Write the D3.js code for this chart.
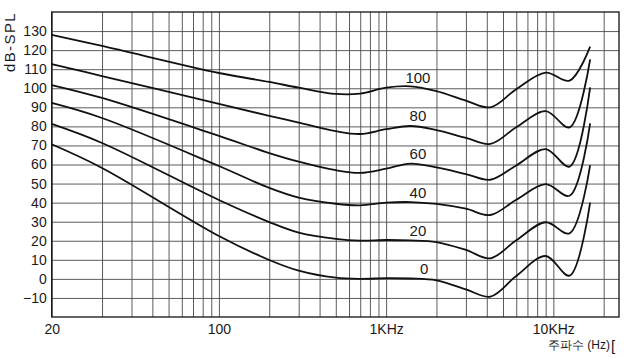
<!DOCTYPE html>
<html><head><meta charset="utf-8">
<script src="https://cdn.jsdelivr.net/npm/d3@7"></script>
<style>
body{margin:0;background:#fff}
svg{display:block}
text{font-family:"Liberation Sans",Arial,Helvetica,sans-serif;fill:#1a1a1a}
</style>
</head><body>
<svg id="chart" width="624" height="358"></svg>
<script>
// Frequencies (chart's log coordinate; left edge of frame is the "20" tick)
const freqs = [10, 20, 100, 200, 300, 500, 700, 1000, 1400, 2000, 3000, 4200, 6000, 9000, 12500, 16600];
// Equal-loudness contours (dB-SPL), one array per loudness level
const phon100 = [128, 122.2, 108, 103.3, 100.3, 97, 97.2, 100.3, 101, 98.5, 93.5, 90, 99.5, 108.2, 104, 121.8];
const phon80  = [112.6, 106.4, 91.8, 85.5, 82, 77.5, 76, 78.5, 80.2, 78, 74, 70.8, 79.5, 88, 79.5, 115.2];
const phon60  = [101.7, 94.9, 75, 66, 61.5, 57, 55.6, 57.8, 60.5, 58.5, 55, 52, 59.5, 68.1, 58.9, 100.5];
const phon40  = [92.3, 84.4, 59.2, 47.7, 42.6, 39.4, 38.6, 40, 40.3, 39.3, 36.8, 33.5, 41.5, 49.7, 43.6, 81.6];
const phon20  = [81.3, 71.3, 41.4, 29.8, 24.3, 21, 20.1, 20.4, 20.2, 19.3, 15.2, 10.8, 20.2, 29.7, 23.9, 59.7];
const phon0   = [70.6, 58.2, 22.5, 9.9, 4.3, 0.6, 0, 0.4, 0.2, -0.8, -5.5, -9.3, 1.5, 12, 1.7, 40];
const levelNames = ["100", "80", "60", "40", "20", "0"];
const levelValues = [100, 80, 60, 40, 20, 0];

// Axis ticks
const yTicks = [-10, 0, 10, 20, 30, 40, 50, 60, 70, 80, 90, 100, 110, 120, 130];
const xTickValues = [10, 100, 1000, 10000];
const xTickLabels = ["20", "100", "1KHz", "10KHz"];
const yTitle = "dB-SPL";
const xTitle = "주파수 (Hz)";

const series = [phon100, phon80, phon60, phon40, phon20, phon0];

const svg = d3.select("#chart");
const pL = 51.7, pR = 619, pT = 12, pB = 317;

const x = d3.scaleLog().domain([10, 24700]).range([pL, pR]);
const y = d3.scaleLinear().domain([-20, 140]).range([pB, pT]);

// grid
const xGrid = [];
[10, 100, 1000].forEach(d => { for (let k = 1; k <= 9; k++) xGrid.push(d * k); });
xGrid.push(10000, 20000);
const yGrid = d3.range(-10, 140, 10);

svg.append("g")
  .attr("transform", `translate(0,${pB})`)
  .call(d3.axisBottom(x).tickValues(xGrid).tickSize(-(pB - pT)).tickFormat(""))
  .call(g => g.select(".domain").remove())
  .call(g => g.selectAll(".tick line").attr("stroke", "#4a4a4a").attr("stroke-width", 0.9));

svg.append("g")
  .attr("transform", `translate(${pL},0)`)
  .call(d3.axisLeft(y).tickValues(yGrid).tickSize(-(pR - pL)).tickFormat(""))
  .call(g => g.select(".domain").remove())
  .call(g => g.selectAll(".tick line").attr("stroke", "#4a4a4a").attr("stroke-width", 0.9));

// frame
svg.append("rect")
  .attr("x", pL).attr("y", pT)
  .attr("width", pR - pL).attr("height", pB - pT)
  .attr("fill", "none").attr("stroke", "#111").attr("stroke-width", 1.3);

// y tick labels
svg.append("g")
  .attr("transform", `translate(${pL},0)`)
  .call(d3.axisLeft(y).tickValues(yTicks).tickSize(0).tickPadding(5).tickFormat(d => d < 0 ? "\u2212" + Math.abs(d) : d))
  .call(g => g.select(".domain").remove())
  .call(g => g.selectAll("text").attr("font-size", 14).attr("fill", "#1a1a1a")
      .attr("font-family", '"Liberation Sans",Arial,sans-serif'));

// x tick labels
svg.append("g")
  .attr("transform", `translate(0,${pB})`)
  .call(d3.axisBottom(x).tickValues(xTickValues).tickSize(0).tickPadding(7)
        .tickFormat((d, i) => xTickLabels[i]))
  .call(g => g.select(".domain").remove())
  .call(g => g.selectAll("text").attr("font-size", 14).attr("fill", "#1a1a1a")
      .attr("font-family", '"Liberation Sans",Arial,sans-serif'));

// titles
svg.append("text")
  .attr("transform", `translate(15,42) rotate(-90)`)
  .attr("text-anchor", "middle")
  .attr("font-size", 15)
  .attr("letter-spacing", 1.4)
  .text(yTitle);

svg.append("text")
  .attr("x", 610).attr("y", 349)
  .attr("text-anchor", "end")
  .attr("font-size", 12)
  .attr("font-family", '"Noto Sans CJK KR","Liberation Sans",sans-serif')
  .text(xTitle);
svg.append("text")
  .attr("x", 611).attr("y", 351)
  .attr("font-size", 15)
  .attr("font-weight", 300)
  .text("[");

// curves
const line = d3.line()
  .x((d, i) => x(freqs[i]))
  .y(d => y(d))
  .curve(d3.curveCatmullRom.alpha(0.5));

svg.append("g").selectAll("path")
  .data(series)
  .join("path")
  .attr("d", d => line(d))
  .attr("fill", "none")
  .attr("stroke", "#111")
  .attr("stroke-width", 1.8);

// curve labels
svg.append("g").selectAll("text")
  .data(levelValues)
  .join("text")
  .attr("x", (d, i) => x(i === 5 ? 1690 : 1550))
  .attr("y", d => y(d + 5.5))
  .attr("dy", "0.36em")
  .attr("text-anchor", "middle")
  .attr("font-size", 15)
  .text((d, i) => levelNames[i]);
</script>
</body></html>
